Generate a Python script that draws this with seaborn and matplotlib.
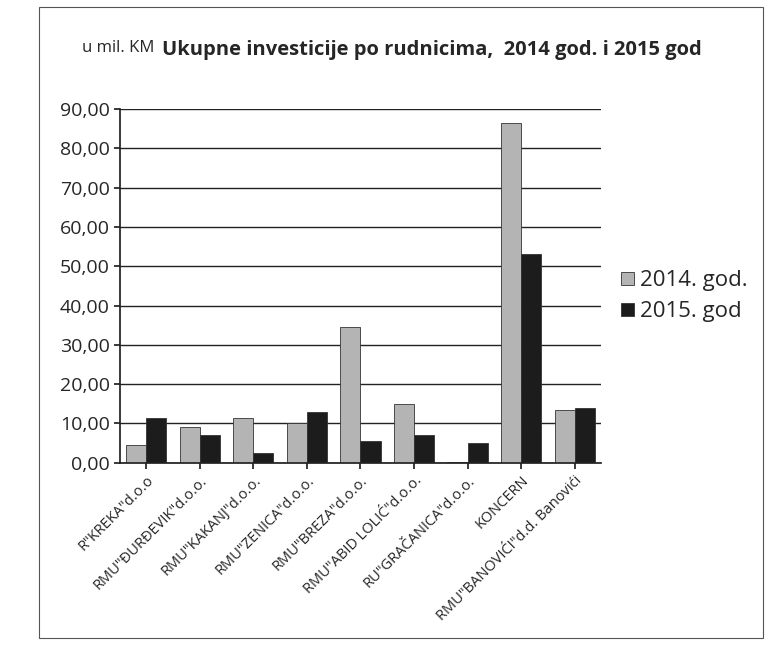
import numpy as np
import pandas as pd
import matplotlib
matplotlib.use("Agg")
import matplotlib.pyplot as plt
import seaborn as sns
from matplotlib.patches import Rectangle

# data (mil. KM)
rudnici = [
    'R"KREKA"d.o.o',
    'RMU"ĐURĐEVIK"d.o.o.',
    'RMU"KAKANJ"d.o.o.',
    'RMU"ZENICA"d.o.o.',
    'RMU"BREZA"d.o.o.',
    'RMU"ABID LOLIĆ"d.o.o.',
    'RU"GRAČANICA"d.o.o.',
    'KONCERN',
    'RMU"BANOVIĆI"d.d. Banovići',
]
god_2014 = [4.5, 9.0, 11.5, 10.0, 34.5, 15.0, 0.3, 86.5, 13.5]
god_2015 = [11.5, 7.0, 2.5, 13.0, 5.5, 7.0, 5.0, 53.0, 14.0]
serije = ["2014. god.", "2015. god"]

df = pd.DataFrame({"Rudnik": rudnici * 2,
                   "Godina": [serije[0]] * len(rudnici) + [serije[1]] * len(rudnici),
                   "Vrijednost": god_2014 + god_2015})

sns.set_theme(style="white")
plt.rcParams["font.family"] = ["Open Sans", "DejaVu Sans"]

fig = plt.figure(figsize=(7.71, 6.61), dpi=100)
ax = fig.add_axes([0.155, 0.30, 0.625, 0.535])

sns.barplot(data=df, x="Rudnik", y="Vrijednost", hue="Godina",
            palette={serije[0]: "#b4b4b4", serije[1]: "#1c1c1c"},
            width=0.75, edgecolor="#333333", linewidth=0.6, ax=ax)

ax.set_ylim(0, 90)
ax.set_yticks(np.arange(0, 91, 10))
ax.set_yticklabels([f"{v:.2f}".replace(".", ",") for v in np.arange(0, 91, 10)],
                   fontsize=14)
ax.yaxis.grid(True, color="#222222", linewidth=1.0)
ax.set_axisbelow(True)
ax.set_xlabel("")
ax.set_ylabel("")
ax.tick_params(axis="y", left=True, length=4, color="#222222", pad=3)
ax.tick_params(axis="x", bottom=True, length=4, color="#222222")
ax.set_xticklabels(rudnici, rotation=45, ha="right", rotation_mode="anchor",
                   fontsize=10.5)
for s in ["top", "right"]:
    ax.spines[s].set_visible(False)
ax.spines["left"].set_color("#222222")
ax.spines["bottom"].set_color("#222222")

ax.legend(loc="center left", bbox_to_anchor=(1.0, 0.47), frameon=False,
          fontsize=16, handlelength=0.55, handleheight=0.55,
          handletextpad=0.3, labelspacing=0.45)

fig.text(0.107, 0.927, "u mil. KM", fontsize=12, ha="left", va="center")
fig.text(0.21, 0.925, "Ukupne investicije po rudnicima,  2014 god. i 2015 god",
         fontsize=14.5, fontweight="bold", ha="left", va="center")

fig.patches.append(Rectangle((0.05, 0.035), 0.94, 0.955, transform=fig.transFigure,
                             fill=False, edgecolor="#555555", linewidth=0.8))

fig.savefig("out.png", dpi=100)
